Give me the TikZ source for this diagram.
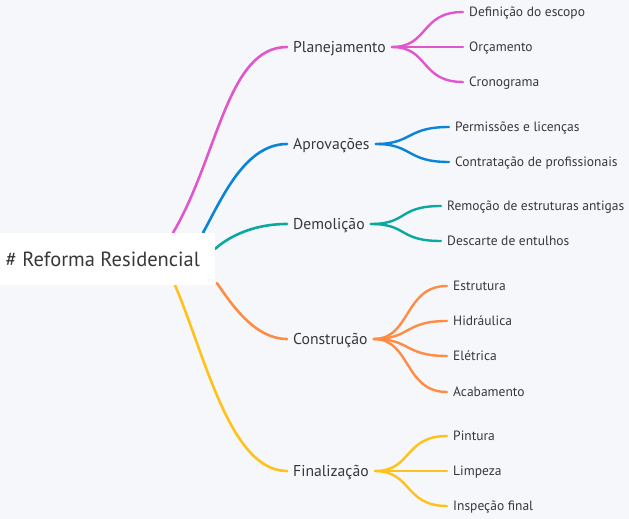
\documentclass[tikz,border=0pt]{standalone}
\usepackage{fontspec}
\setmainfont{PT Sans}
\usetikzlibrary{calc,backgrounds}
\definecolor{bgcol}{HTML}{F5F7FA}
\definecolor{textcol}{HTML}{383838}
\definecolor{pinkline}{HTML}{E056CD}
\definecolor{blueline}{HTML}{0A84D6}
\definecolor{tealline}{HTML}{0AA89E}
\definecolor{orangeline}{HTML}{FF8C42}
\definecolor{yellowline}{HTML}{FFC21A}
\tikzset{
  rootbox/.style={rectangle, fill=white, anchor=east, minimum height=52pt, inner xsep=15pt, text=textcol, font=\fontsize{20.5}{24}\selectfont},
  topic/.style={anchor=west, inner xsep=6pt, inner ysep=0pt, text height=11pt, text depth=0pt, text=textcol, font=\fontsize{15.7}{18}\selectfont},
  subtopic/.style={anchor=west, inner xsep=6pt, inner ysep=0pt, text height=9.4pt, text depth=0pt, text=textcol, font=\fontsize{13.5}{16}\selectfont},
  branch/.style={line width=2.6pt, line cap=round},
  twig/.style={line width=2.4pt, line cap=round}
}

\begin{document}
\begin{tikzpicture}[x=1pt, y=-1pt]
      \useasboundingbox (0, 0) rectangle (629, 519);
      \node [rootbox] (root) at (215, 259) {\# Reforma Residencial};
      \node [topic] (planejamento) at (287, 47) {Planejamento};
      \node [topic] (aprovacoes) at (287, 144) {Aprovações};
      \node [topic] (demolicao) at (287, 224) {Demolição};
      \node [topic] (construcao) at (287, 339) {Construção};
      \node [topic] (finalizacao) at (287, 471) {Finalização};
      \node [subtopic] (escopo) at (463, 12) {Definição do escopo};
      \node [subtopic] (orcamento) at (463, 47) {Orçamento};
      \node [subtopic] (cronograma) at (463, 82) {Cronograma};
      \node [subtopic] (permissoes) at (449, 127) {Permissões e licenças};
      \node [subtopic] (contratacao) at (449, 162) {Contratação de profissionais};
      \node [subtopic] (remocao) at (441, 206) {Remoção de estruturas antigas};
      \node [subtopic] (descarte) at (441, 241) {Descarte de entulhos};
      \node [subtopic] (estrutura) at (447, 286) {Estrutura};
      \node [subtopic] (hidraulica) at (447, 321) {Hidráulica};
      \node [subtopic] (eletrica) at (447, 356) {Elétrica};
      \node [subtopic] (acabamento) at (447, 392) {Acabamento};
      \node [subtopic] (pintura) at (447, 436) {Pintura};
      \node [subtopic] (limpeza) at (447, 471) {Limpeza};
      \node [subtopic] (inspecao) at (447, 506) {Inspeção final};
      \begin{pgfonlayer}{background}
        \fill [bgcol] (0, 0) rectangle (629, 519);
        \draw [branch, pinkline] ($(root.north east)+(-42, 0)$) .. controls (218, 157) and (227, 47) .. (planejamento.west);
        \draw [branch, blueline] ($(root.north east)+(-12, 0)$) .. controls (222, 198) and (245, 144) .. (aprovacoes.west);
        \draw [branch, tealline] ($(root.east)+(0, -10)$) .. controls (226, 239) and (250, 224) .. (demolicao.west);
        \draw [branch, orangeline] ($(root.south east)+(2, -2)$) .. controls (232, 305) and (255, 339) .. (construcao.west);
        \draw [branch, yellowline] ($(root.south east)+(-40, 0)$) .. controls (205, 355) and (230, 471) .. (finalizacao.west);
      \end{pgfonlayer}
      \draw [twig, pinkline] (planejamento.east) .. controls +(37, 0) and +(-43, 0) .. (escopo.west);
      \draw [twig, pinkline] (planejamento.east) .. controls +(37, 0) and +(-43, 0) .. (orcamento.west);
      \draw [twig, pinkline] (planejamento.east) .. controls +(37, 0) and +(-43, 0) .. (cronograma.west);
      \draw [twig, blueline] (aprovacoes.east) .. controls +(37, 0) and +(-43, 0) .. (permissoes.west);
      \draw [twig, blueline] (aprovacoes.east) .. controls +(37, 0) and +(-43, 0) .. (contratacao.west);
      \draw [twig, tealline] (demolicao.east) .. controls +(37, 0) and +(-43, 0) .. (remocao.west);
      \draw [twig, tealline] (demolicao.east) .. controls +(37, 0) and +(-43, 0) .. (descarte.west);
      \draw [twig, orangeline] (construcao.east) .. controls +(37, 0) and +(-43, 0) .. (estrutura.west);
      \draw [twig, orangeline] (construcao.east) .. controls +(37, 0) and +(-43, 0) .. (hidraulica.west);
      \draw [twig, orangeline] (construcao.east) .. controls +(37, 0) and +(-43, 0) .. (eletrica.west);
      \draw [twig, orangeline] (construcao.east) .. controls +(37, 0) and +(-43, 0) .. (acabamento.west);
      \draw [twig, yellowline] (finalizacao.east) .. controls +(37, 0) and +(-43, 0) .. (pintura.west);
      \draw [twig, yellowline] (finalizacao.east) .. controls +(37, 0) and +(-43, 0) .. (limpeza.west);
      \draw [twig, yellowline] (finalizacao.east) .. controls +(37, 0) and +(-43, 0) .. (inspecao.west);
    \end{tikzpicture}
\end{document}
